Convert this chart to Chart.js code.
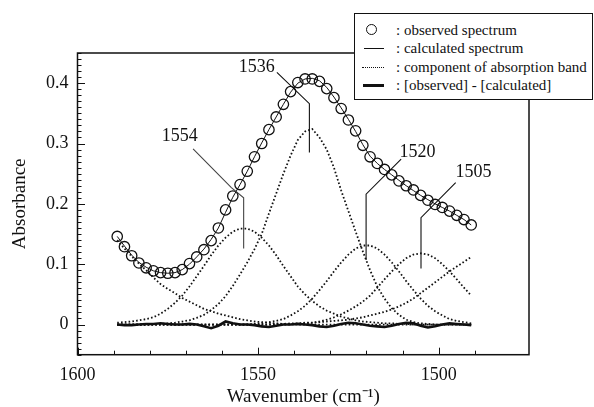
<!DOCTYPE html>
<html>
<head>
<meta charset="utf-8">
<script src="https://cdn.jsdelivr.net/npm/chart.js@4.4.0/dist/chart.umd.min.js"></script>
<style>
  html, body { margin: 0; padding: 0; background: #fff; }
  #wrap { position: relative; width: 594px; height: 407px; }
  #legend {
    position: absolute; left: 354px; top: 13px; width: 237px; height: 85px;
    border: 1.5px solid #111; background: #fff;
    font-family: "Liberation Serif", serif; font-size: 15px; color: #111;
  }
  .row { position: absolute; left: 0; width: 100%; height: 18px; }
  .sym { position: absolute; }
  .txt { position: absolute; left: 41px; top: 0; line-height: 18px; white-space: nowrap; }
</style>
</head>
<body>
<div id="wrap">
  <canvas id="spectrum" width="594" height="407"></canvas>
  <div id="legend">
    <div class="row" style="top:7px">
      <span class="sym" style="left:11px;top:3px;width:9px;height:9px;border:1.4px solid #111;border-radius:50%"></span>
      <span class="txt">: observed spectrum</span>
    </div>
    <div class="row" style="top:25px">
      <span class="sym" style="left:9px;top:9px;width:20px;border-top:1px solid #111"></span>
      <span class="txt">: calculated spectrum</span>
    </div>
    <div class="row" style="top:44px">
      <span class="sym" style="left:7px;top:9px;width:22px;border-top:1.5px dotted #111"></span>
      <span class="txt">: component of absorption band</span>
    </div>
    <div class="row" style="top:62px">
      <span class="sym" style="left:8px;top:8px;width:21px;border-top:3px solid #111"></span>
      <span class="txt">: [observed] - [calculated]</span>
    </div>
  </div>
</div>
<script>
// wavenumbers of the sampled points (cm-1)
const wavenumbers = [1589, 1587, 1585, 1583, 1581, 1579, 1577, 1575, 1573, 1571,
  1569, 1567, 1565, 1563, 1561, 1559, 1557, 1555, 1553, 1551,
  1549, 1547, 1545, 1543, 1541, 1539, 1537, 1535, 1533, 1531,
  1529, 1527, 1525, 1523, 1521, 1519, 1517, 1515, 1513, 1511,
  1509, 1507, 1505, 1503, 1501, 1499, 1497, 1495, 1493, 1491];

const observed = [0.146, 0.129, 0.114, 0.102, 0.094, 0.089, 0.086, 0.085, 0.086, 0.091,
  0.101, 0.112, 0.124, 0.139, 0.160, 0.190, 0.213, 0.232, 0.254, 0.278,
  0.300, 0.323, 0.344, 0.365, 0.386, 0.401, 0.407, 0.407, 0.403, 0.391,
  0.376, 0.358, 0.339, 0.321, 0.297, 0.278, 0.267, 0.257, 0.248, 0.238,
  0.230, 0.223, 0.214, 0.206, 0.199, 0.194, 0.188, 0.181, 0.174, 0.165];

const calculated = [0.146, 0.130, 0.115, 0.103, 0.095, 0.089, 0.086, 0.085, 0.086, 0.091,
  0.100, 0.112, 0.125, 0.141, 0.160, 0.186, 0.211, 0.232, 0.254, 0.278,
  0.301, 0.323, 0.344, 0.365, 0.385, 0.400, 0.407, 0.408, 0.404, 0.393,
  0.377, 0.359, 0.340, 0.320, 0.298, 0.279, 0.267, 0.257, 0.248, 0.239,
  0.230, 0.222, 0.214, 0.207, 0.200, 0.194, 0.188, 0.181, 0.174, 0.165];

const residual = [0.000, -0.001, -0.001, 0.000, 0.001, 0.001, 0.002, 0.001, 0.000, 0.000,
  0.001, 0.000, -0.003, -0.006, -0.002, 0.005, 0.002, 0.000, 0.000, -0.001,
  -0.003, -0.004, -0.002, 0.000, 0.000, 0.001, 0.000, -0.001, -0.003, -0.004,
  -0.002, 0.001, 0.003, 0.002, 0.000, -0.002, -0.003, -0.004, -0.002, 0.001,
  0.003, 0.002, -0.002, -0.005, -0.003, 0.000, 0.002, 0.001, 0.000, -0.001];

// component bands
const bandHigh = [0.140, 0.126, 0.113, 0.101, 0.090, 0.078, 0.067, 0.059, 0.052, 0.044,
  0.038, 0.032, 0.026, 0.022, 0.018, 0.015, 0.012, 0.009, 0.007, 0.005,
  0.004, 0.003, 0.002, 0.001, 0.001, 0, 0, 0, 0, 0,
  0, 0, 0, 0, 0, 0, 0, 0, 0, 0,
  0, 0, 0, 0, 0, 0, 0, 0, 0, 0];

const band1554 = [0.003, 0.004, 0.005, 0.007, 0.009, 0.012, 0.018, 0.026, 0.036, 0.048,
  0.063, 0.080, 0.097, 0.115, 0.131, 0.144, 0.154, 0.159, 0.159, 0.154,
  0.144, 0.131, 0.115, 0.097, 0.080, 0.063, 0.050, 0.039, 0.030, 0.023,
  0.018, 0.013, 0.010, 0.007, 0.005, 0.004, 0.003, 0.002, 0.002, 0.001,
  0.001, 0, 0, 0, 0, 0, 0, 0, 0, 0];

const band1536 = [0, 0, 0, 0, 0, 0.001, 0.001, 0.002, 0.003, 0.005,
  0.007, 0.011, 0.016, 0.024, 0.034, 0.047, 0.064, 0.083, 0.103, 0.125,
  0.150, 0.184, 0.217, 0.250, 0.280, 0.306, 0.320, 0.324, 0.310, 0.290,
  0.260, 0.222, 0.188, 0.154, 0.121, 0.090, 0.063, 0.043, 0.027, 0.016,
  0.008, 0.004, 0.002, 0.001, 0, 0, 0, 0, 0, 0];

const band1520 = [0, 0, 0, 0, 0, 0, 0, 0, 0, 0,
  0, 0, 0, 0, 0, 0, 0, 0, 0, 0.001,
  0.002, 0.004, 0.006, 0.009, 0.015, 0.022, 0.031, 0.043, 0.057, 0.072,
  0.088, 0.103, 0.116, 0.126, 0.131, 0.131, 0.126, 0.116, 0.103, 0.088,
  0.072, 0.057, 0.043, 0.031, 0.022, 0.015, 0.009, 0.006, 0.004, 0.002];

const band1505 = [0, 0, 0, 0, 0, 0, 0, 0, 0, 0,
  0, 0, 0, 0, 0, 0, 0, 0, 0, 0,
  0, 0, 0, 0, 0, 0.001, 0.002, 0.003, 0.005, 0.008,
  0.012, 0.017, 0.023, 0.030, 0.038, 0.048, 0.061, 0.075, 0.088, 0.100,
  0.110, 0.116, 0.118, 0.116, 0.110, 0.100, 0.088, 0.075, 0.061, 0.048];

const bandLow = [0, 0, 0, 0, 0, 0, 0, 0, 0, 0,
  0, 0, 0, 0, 0, 0, 0, 0, 0, 0,
  0, 0, 0.001, 0.001, 0.002, 0.002, 0.003, 0.003, 0.004, 0.005,
  0.006, 0.007, 0.008, 0.010, 0.012, 0.015, 0.018, 0.021, 0.025, 0.030,
  0.036, 0.043, 0.052, 0.061, 0.070, 0.079, 0.088, 0.096, 0.104, 0.112];

const xTickLabels = [1600, 1550, 1500];
const yTickLabels = [0, 0.1, 0.2, 0.3, 0.4];

// peak labels: text, text position, leader line (in data units)
const peakLabels = ["1554", "1536", "1520", "1505"];
const labelPos = [[1571.7, 0.312], [1550.4, 0.427], [1505.9, 0.286], [1490.4, 0.252]];
const leaders = [
  [[1568, 0.291], [1557.4, 0.227], [1554, 0.210], [1554, 0.126]],
  [[1544.8, 0.418], [1535.8, 0.366], [1535.8, 0.285]],
  [[1510.4, 0.274], [1520.1, 0.216], [1520.1, 0.107]],
  [[1495.3, 0.235], [1504.9, 0.177], [1504.9, 0.093]]
];

const toXY = (ys) => ys.map((y, i) => ({ x: wavenumbers[i], y: y }));
const serif = "'Liberation Serif', 'Times New Roman', serif";

const dotted = (data) => ({
  data: toXY(data),
  borderColor: "#111",
  borderWidth: 1.8,
  borderDash: [1.6, 2.2],
  pointRadius: 0,
  fill: false,
});

// frame, inward ticks and peak labels
const framePlugin = {
  id: "frame",
  afterDraw(chart) {
    const { ctx, chartArea: a, scales: { x, y } } = chart;
    ctx.save();
    ctx.strokeStyle = "#111";
    ctx.lineWidth = 1.5;
    ctx.strokeRect(a.left, a.top, a.right - a.left, a.bottom - a.top);

    ctx.lineWidth = 1;
    x.ticks.forEach((t) => {
      if (Math.abs(t.value % 10) > 1e-6) return;
      const px = Math.round(x.getPixelForValue(t.value)) + 0.5;
      const len = t.value % 50 === 0 ? 7 : 4;
      ctx.beginPath();
      ctx.moveTo(px, a.bottom);
      ctx.lineTo(px, a.bottom - len);
      ctx.stroke();
    });
    y.ticks.forEach((t) => {
      const py = Math.round(y.getPixelForValue(t.value)) + 0.5;
      const major = Math.abs(t.value * 10 - Math.round(t.value * 10)) < 1e-6;
      ctx.beginPath();
      ctx.moveTo(a.left, py);
      ctx.lineTo(a.left + (major ? 7.5 : 4), py);
      ctx.stroke();
    });

    ctx.lineWidth = 1.1;
    leaders.forEach((pts, k) => {
      ctx.strokeStyle = k === 0 ? "#444" : "#111";
      ctx.beginPath();
      pts.forEach((p, i) => {
        const px = x.getPixelForValue(p[0]);
        const py = y.getPixelForValue(p[1]);
        if (i === 0) ctx.moveTo(px, py);
        else ctx.lineTo(px, py);
      });
      ctx.stroke();
    });

    ctx.fillStyle = "#111";
    ctx.font = "18px " + serif;
    ctx.textAlign = "center";
    ctx.textBaseline = "middle";
    peakLabels.forEach((txt, k) => {
      ctx.fillText(txt, x.getPixelForValue(labelPos[k][0]), y.getPixelForValue(labelPos[k][1]));
    });
    ctx.restore();
  },
};

new Chart(document.getElementById("spectrum").getContext("2d"), {
  type: "line",
  data: {
    datasets: [
      dotted(bandHigh),
      dotted(band1554),
      dotted(band1536),
      dotted(band1520),
      dotted(band1505),
      dotted(bandLow),
      {
        label: "[observed] - [calculated]",
        data: toXY(residual),
        borderColor: "#111",
        borderWidth: 2.6,
        pointRadius: 0,
      },
      {
        label: "calculated spectrum",
        data: toXY(calculated),
        borderColor: "#111",
        borderWidth: 1,
        pointRadius: 0,
      },
      {
        label: "observed spectrum",
        data: toXY(observed),
        showLine: false,
        pointRadius: 5.2,
        pointBorderWidth: 1.3,
        pointBorderColor: "#111",
        pointBackgroundColor: "rgba(0,0,0,0)",
      },
    ],
  },
  options: {
    responsive: false,
    animation: false,
    devicePixelRatio: 1,
    layout: { padding: { left: 0, top: 53, right: 65, bottom: 0 } },
    plugins: { legend: { display: false }, tooltip: { enabled: false } },
    scales: {
      x: {
        type: "linear",
        reverse: true,
        min: 1475,
        max: 1600,
        afterFit: (scale) => { scale.height = 52.3; },
        grid: { display: false, drawTicks: false },
        border: { display: false },
        ticks: {
          stepSize: 10,
          autoSkip: false,
          maxRotation: 0,
          padding: 10,
          color: "#111",
          font: { family: serif, size: 18 },
          callback: (v) => (xTickLabels.includes(v) ? String(v) : ""),
        },
        title: {
          display: true,
          text: "Wavenumber (cm\u207B\u00B9)",
          color: "#111",
          font: { family: serif, size: 19, lineHeight: 1 },
          padding: 0,
        },
      },
      y: {
        min: -0.05,
        max: 0.45,
        afterFit: (scale) => { scale.width = 77.5; },
        grid: { display: false, drawTicks: false },
        border: { display: false },
        ticks: {
          stepSize: 0.01,
          maxTicksLimit: 1000,
          autoSkip: false,
          padding: 9,
          color: "#111",
          font: { family: serif, size: 18 },
          callback: (v) => {
            const lab = yTickLabels.find((t) => Math.abs(t - v) < 1e-6);
            return lab === undefined ? "" : String(lab);
          },
        },
        title: {
          display: true,
          text: "Absorbance",
          color: "#111",
          font: { family: serif, size: 19, lineHeight: 1 },
          padding: { top: 10.5, bottom: 0 },
        },
      },
    },
  },
  plugins: [framePlugin],
});
</script>
</body>
</html>
